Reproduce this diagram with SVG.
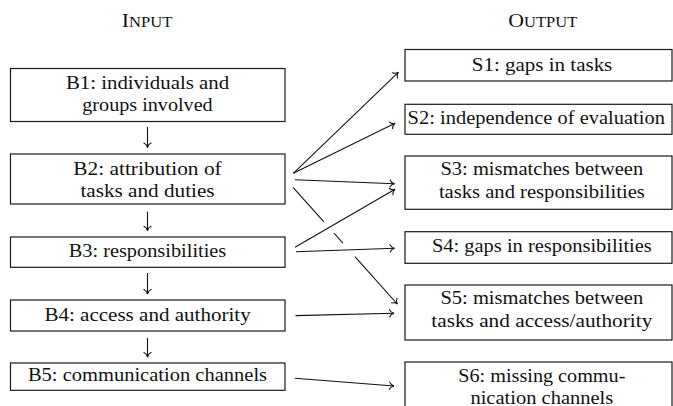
<svg xmlns="http://www.w3.org/2000/svg" width="673" height="406" viewBox="0 0 673 406">
<style>
  .box { fill: #ffffff; stroke: #1a1a1a; stroke-width: 1.2; }
  .c { fill: none; stroke: #111111; stroke-width: 1.1; marker-end: url(#ah); }
</style>
<defs>
  <marker id="ah" viewBox="-6 -5 10 10" markerWidth="10" markerHeight="10" refX="0" refY="0" orient="auto" markerUnits="userSpaceOnUse" overflow="visible">
    <path d="M-4.5,-3.6 C-3.6,-1.6 -1.6,-0.4 0,0 C-1.6,0.4 -3.6,1.6 -4.5,3.6" fill="none" stroke="#111111" stroke-width="1.1" stroke-linecap="round"/>
  </marker>
</defs>
<rect width="673" height="406" fill="#ffffff"/>

<g font-family="Liberation Serif, serif" font-size="18.5" fill="#111111">
<g id="title-input">
  <text x="121.7" y="26.7" textLength="50.6" lengthAdjust="spacingAndGlyphs">I<tspan font-size="14">NPUT</tspan></text>
</g>
<g id="title-output">
  <text x="508.3" y="26.7" textLength="69" lengthAdjust="spacingAndGlyphs">O<tspan font-size="14">UTPUT</tspan></text>
</g>

<g id="B1">
  <rect class="box" x="10.5" y="68.5" width="274.5" height="53"/>
  <text x="65.9" y="88.5" textLength="163.2" lengthAdjust="spacingAndGlyphs">B1: individuals and</text>
  <text x="82.3" y="111" textLength="130.4" lengthAdjust="spacingAndGlyphs">groups involved</text>
</g>
<g id="B2">
  <rect class="box" x="10.5" y="154" width="274.5" height="50"/>
  <text x="73.3" y="174.8" textLength="148.4" lengthAdjust="spacingAndGlyphs">B2: attribution of</text>
  <text x="80.4" y="197.2" textLength="134.2" lengthAdjust="spacingAndGlyphs">tasks and duties</text>
</g>
<g id="B3">
  <rect class="box" x="10.5" y="237" width="274.5" height="30.3"/>
  <text x="68.7" y="257" textLength="157.6" lengthAdjust="spacingAndGlyphs">B3: responsibilities</text>
</g>
<g id="B4">
  <rect class="box" x="10.5" y="300" width="274.5" height="31"/>
  <text x="44.4" y="320.5" textLength="206.3" lengthAdjust="spacingAndGlyphs">B4: access and authority</text>
</g>
<g id="B5">
  <rect class="box" x="10.5" y="363" width="274.5" height="27.3"/>
  <text x="27.9" y="381.2" textLength="239.2" lengthAdjust="spacingAndGlyphs">B5: communication channels</text>
</g>

<g id="S1">
  <rect class="box" x="405" y="49.5" width="267" height="31.5"/>
  <text x="471.8" y="70.6" textLength="140.5" lengthAdjust="spacingAndGlyphs">S1: gaps in tasks</text>
</g>
<g id="S2">
  <rect class="box" x="405" y="104.3" width="267" height="30"/>
  <text x="407.6" y="123.8" textLength="257.3" lengthAdjust="spacingAndGlyphs">S2: independence of evaluation</text>
</g>
<g id="S3">
  <rect class="box" x="405" y="156" width="267" height="53.3"/>
  <text x="440.4" y="175" textLength="202.8" lengthAdjust="spacingAndGlyphs">S3: mismatches between</text>
  <text x="438.9" y="197.5" textLength="205.9" lengthAdjust="spacingAndGlyphs">tasks and responsibilities</text>
</g>
<g id="S4">
  <rect class="box" x="405" y="231.7" width="267" height="31.6"/>
  <text x="431.9" y="251.8" textLength="219.9" lengthAdjust="spacingAndGlyphs">S4: gaps in responsibilities</text>
</g>
<g id="S5">
  <rect class="box" x="405" y="285" width="267" height="55"/>
  <text x="440.4" y="304.3" textLength="202.8" lengthAdjust="spacingAndGlyphs">S5: mismatches between</text>
  <text x="431.3" y="327" textLength="221" lengthAdjust="spacingAndGlyphs">tasks and access/authority</text>
</g>
<g id="S6">
  <rect class="box" x="405" y="362" width="267" height="60"/>
  <text x="458.3" y="381.5" textLength="167.1" lengthAdjust="spacingAndGlyphs">S6: missing commu-</text>
  <text x="470.4" y="404" textLength="142.9" lengthAdjust="spacingAndGlyphs">nication channels</text>
</g>
</g>

<g id="connectors">
  <path class="c" d="M147.5,127 L147.5,147.5"/>
  <path class="c" d="M147.5,211.7 L147.5,230.7"/>
  <path class="c" d="M147.5,273 L147.5,294"/>
  <path class="c" d="M147.5,338 L147.5,357"/>
  <path class="c" d="M293.3,173.3 L398.3,72.3"/>
  <path class="c" d="M293.3,173.3 L395,123.3"/>
  <path class="c" d="M295,179.7 L394.5,183.7"/>
  <path class="c" d="M293,187.3 L323.9,221.9 M333.9,233 L342.9,243.2 M354.9,256.6 L397.3,304"/>
  <path class="c" d="M295,247.3 L395,189.3"/>
  <path class="c" d="M296,251.8 L394.5,248.3"/>
  <path class="c" d="M295.5,315.6 L394,313.3"/>
  <path class="c" d="M295,378.3 L394,386"/>
</g>
</svg>
